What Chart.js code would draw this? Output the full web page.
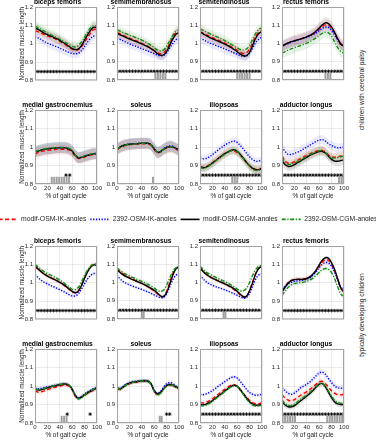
<!DOCTYPE html>
<html>
<head>
<meta charset="utf-8">
<script src="https://cdn.jsdelivr.net/npm/chart.js@4.4.1/dist/chart.umd.min.js"></script>
<style>
    html, body { margin: 0; padding: 0; background: #fff; }
    #fig { position: relative; width: 376px; height: 440px; overflow: hidden; font-family: "Liberation Sans", Arial, sans-serif; }
    #fig canvas { position: absolute; }
    .side { position: absolute; white-space: nowrap; font-size: 6.7px; color: #262626; transform: translate(-50%, -50%) rotate(-90deg); }
</style>
</head>
<body>
<div id="fig">
    <div class="side" style="left:361px; top:90px;">children with cerebral palsy</div>
    <div class="side" style="left:361px; top:315px;">typically developing children</div>
</div>
<script>
// ── Data ─────────────────────────────────────────────────────
const gaitPct = [0, 5, 10, 15, 20, 25, 30, 35, 40, 45, 50, 55, 60, 65, 70, 75, 80, 85, 90, 95, 100];
const seriesNames = ["modif-OSM-IK-angles", "2392-OSM-IK-angles", "modif-OSM-CGM-angles", "2392-OSM-CGM-angles"];
const muscleNames = ["biceps femoris", "semimembranosus", "semitendinosus", "rectus femoris",
                     "medial gastrocnemius", "soleus", "iliopsoas", "adductor longus"];
const yTickValues = [0.8, 0.9, 1.0, 1.1, 1.2];
const yTickLabels = ["0.8", "0.9", "1", "1.1", "1.2"];
const xTickValues = [0, 20, 40, 60, 80, 100];
const starLevel = 0.848;
const barLevel = 0.819;
const fullStarPct = [0, 5, 10, 15, 20, 25, 30, 35, 40, 45, 50, 55, 60, 65, 70, 75, 80, 85, 90, 95, 100];

// children with cerebral palsy
const cp_bf_modIK   = [1.070,1.065,1.058,1.050,1.043,1.036,1.030,1.022,1.013,1.003,0.992,0.980,0.970,0.965,0.968,0.983,1.008,1.035,1.060,1.078,1.075];
const cp_bf_2392IK  = [1.040,1.032,1.022,1.012,1.003,0.996,0.990,0.983,0.976,0.968,0.960,0.952,0.947,0.945,0.948,0.962,0.985,1.010,1.030,1.042,1.043];
const cp_bf_modCGM  = [1.085,1.078,1.068,1.058,1.050,1.042,1.035,1.027,1.018,1.008,0.997,0.985,0.973,0.968,0.972,0.990,1.020,1.050,1.075,1.090,1.085];
const cp_bf_2392CGM = [1.095,1.088,1.078,1.068,1.058,1.050,1.042,1.034,1.025,1.015,1.005,0.995,0.985,0.982,0.990,1.010,1.037,1.065,1.088,1.098,1.095];
const cp_bf_sd = [0.025, 0.025, 0.025, 0.028];

const cp_sm_modIK   = [1.060,1.053,1.045,1.037,1.030,1.023,1.016,1.009,1.001,0.993,0.984,0.974,0.962,0.950,0.944,0.948,0.968,1.000,1.035,1.060,1.068];
const cp_sm_2392IK  = [1.030,1.022,1.014,1.006,0.998,0.991,0.985,0.978,0.971,0.965,0.958,0.951,0.944,0.937,0.933,0.935,0.950,0.975,1.000,1.020,1.030];
const cp_sm_modCGM  = [1.055,1.048,1.040,1.032,1.025,1.018,1.012,1.005,0.998,0.990,0.982,0.972,0.960,0.945,0.936,0.937,0.955,0.990,1.025,1.050,1.060];
const cp_sm_2392CGM = [1.075,1.068,1.060,1.053,1.046,1.040,1.033,1.026,1.018,1.010,1.000,0.990,0.978,0.965,0.960,0.965,0.985,1.015,1.045,1.068,1.075];
const cp_sm_sd = [0.025, 0.025, 0.025, 0.025];
const cp_sm_bars = [62, 66, 70, 74, 78];

const cp_st_modIK   = [1.065,1.057,1.048,1.040,1.032,1.025,1.018,1.010,1.002,0.993,0.983,0.973,0.962,0.952,0.945,0.950,0.970,1.005,1.040,1.063,1.070];
const cp_st_2392IK  = [1.030,1.021,1.012,1.004,0.997,0.990,0.984,0.977,0.970,0.963,0.955,0.948,0.941,0.934,0.930,0.932,0.948,0.975,1.005,1.025,1.035];
const cp_st_modCGM  = [1.062,1.053,1.043,1.034,1.026,1.019,1.012,1.005,0.997,0.988,0.978,0.967,0.955,0.942,0.933,0.933,0.952,0.990,1.030,1.055,1.065];
const cp_st_2392CGM = [1.080,1.072,1.063,1.055,1.047,1.040,1.033,1.025,1.016,1.006,0.996,0.986,0.976,0.967,0.965,0.970,0.990,1.025,1.057,1.078,1.085];
const cp_st_sd = [0.025, 0.025, 0.025, 0.025];
const cp_st_bars = [60, 64, 68, 72, 76, 80];

const cp_rf_modIK   = [0.985,0.995,1.002,1.010,1.015,1.020,1.025,1.030,1.036,1.043,1.052,1.063,1.078,1.093,1.102,1.099,1.082,1.054,1.021,0.995,0.985];
const cp_rf_2392IK  = [0.985,0.993,1.000,1.007,1.013,1.018,1.023,1.028,1.034,1.040,1.048,1.058,1.070,1.083,1.090,1.088,1.073,1.047,1.017,0.993,0.985];
const cp_rf_modCGM  = [0.985,0.995,1.003,1.010,1.015,1.020,1.025,1.030,1.037,1.045,1.055,1.068,1.085,1.102,1.113,1.109,1.090,1.060,1.025,0.997,0.985];
const cp_rf_2392CGM = [0.947,0.956,0.964,0.971,0.977,0.983,0.989,0.995,1.002,1.010,1.020,1.031,1.044,1.056,1.062,1.058,1.040,1.008,0.977,0.956,0.947];
const cp_rf_sd = [0.03, 0.025, 0.03, 0.03];
const cp_rf_bars = [70, 74, 78];

const cp_mg_modIK   = [0.962,0.970,0.975,0.979,0.982,0.984,0.986,0.987,0.988,0.988,0.987,0.983,0.972,0.950,0.938,0.940,0.946,0.951,0.956,0.960,0.962];
const cp_mg_2392IK  = [0.974,0.980,0.984,0.988,0.991,0.993,0.995,0.996,0.997,0.997,0.996,0.991,0.979,0.956,0.943,0.945,0.951,0.956,0.961,0.964,0.966];
const cp_mg_modCGM  = [0.972,0.978,0.983,0.987,0.990,0.992,0.994,0.995,0.996,0.996,0.995,0.990,0.978,0.955,0.942,0.944,0.950,0.955,0.960,0.963,0.965];
const cp_mg_2392CGM = [0.975,0.981,0.985,0.989,0.992,0.994,0.996,0.997,0.998,0.998,0.997,0.992,0.980,0.957,0.944,0.946,0.952,0.957,0.962,0.965,0.967];
const cp_mg_sd = [0.03, 0.03, 0.03, 0.03];
const cp_mg_bars = [27, 31, 35, 39, 43, 47, 51, 55];
const cp_mg_stars = [50, 56];

const cp_so_modIK   = [0.985,0.996,1.004,1.009,1.012,1.014,1.015,1.016,1.017,1.017,1.016,1.008,0.986,0.969,0.972,0.985,0.994,0.999,0.997,0.989,0.980];
const cp_so_2392IK  = [0.990,1.001,1.009,1.013,1.016,1.018,1.019,1.020,1.021,1.021,1.021,1.013,0.991,0.973,0.977,0.991,1.001,1.006,1.004,0.995,0.985];
const cp_so_modCGM  = [0.990,1.000,1.008,1.012,1.015,1.017,1.018,1.019,1.020,1.020,1.020,1.012,0.990,0.972,0.975,0.988,0.997,1.002,1.000,0.992,0.983];
const cp_so_2392CGM = [0.989,0.999,1.007,1.011,1.014,1.016,1.017,1.018,1.019,1.019,1.019,1.011,0.989,0.971,0.974,0.987,0.996,1.001,0.999,0.991,0.982];
const cp_so_sd = [0.03, 0.03, 0.03, 0.03];
const cp_so_bars = [58];

const cp_il_modIK   = [0.893,0.890,0.893,0.903,0.915,0.928,0.940,0.953,0.964,0.973,0.979,0.978,0.969,0.955,0.937,0.917,0.899,0.886,0.879,0.880,0.886];
const cp_il_2392IK  = [0.940,0.936,0.938,0.947,0.959,0.972,0.985,0.998,1.010,1.020,1.028,1.032,1.025,1.008,0.988,0.966,0.947,0.932,0.923,0.924,0.931];
const cp_il_modCGM  = [0.892,0.888,0.891,0.901,0.913,0.926,0.939,0.952,0.964,0.974,0.982,0.985,0.977,0.960,0.939,0.917,0.898,0.884,0.877,0.878,0.884];
const cp_il_2392CGM = [0.888,0.884,0.888,0.898,0.910,0.923,0.936,0.949,0.961,0.971,0.979,0.982,0.974,0.957,0.936,0.914,0.895,0.880,0.873,0.874,0.881];
const cp_il_sd = [0.02, 0.02, 0.025, 0.02];
const cp_il_bars = [52, 56, 60];

const cp_al_modIK   = [0.952,0.925,0.912,0.913,0.920,0.928,0.937,0.946,0.955,0.963,0.970,0.977,0.982,0.982,0.973,0.957,0.947,0.945,0.948,0.952,0.955];
const cp_al_2392IK  = [1.000,0.975,0.960,0.960,0.965,0.972,0.980,0.990,1.000,1.010,1.020,1.030,1.037,1.040,1.032,1.018,1.008,1.000,0.995,0.997,1.000];
const cp_al_modCGM  = [0.928,0.905,0.895,0.897,0.905,0.915,0.925,0.935,0.945,0.955,0.963,0.970,0.975,0.976,0.968,0.950,0.933,0.924,0.923,0.927,0.930];
const cp_al_2392CGM = [0.945,0.918,0.906,0.907,0.913,0.921,0.930,0.940,0.950,0.959,0.967,0.974,0.980,0.980,0.970,0.953,0.942,0.940,0.943,0.947,0.950];
const cp_al_sd = [0.025, 0.025, 0.025, 0.025];
const cp_al_bars = [92, 96, 99];

// typically developing children
const td_bf_modIK   = [1.088,1.074,1.060,1.048,1.037,1.028,1.020,1.011,1.001,0.990,0.978,0.964,0.951,0.946,0.957,0.988,1.028,1.064,1.090,1.102,1.100];
const td_bf_2392IK  = [1.045,1.028,1.013,1.002,0.993,0.985,0.978,0.970,0.962,0.953,0.944,0.935,0.928,0.928,0.940,0.965,0.995,1.022,1.040,1.050,1.050];
const td_bf_modCGM  = [1.090,1.075,1.060,1.047,1.036,1.027,1.019,1.011,1.002,0.992,0.980,0.966,0.952,0.945,0.955,0.985,1.025,1.060,1.085,1.097,1.095];
const td_bf_2392CGM = [1.100,1.086,1.072,1.060,1.050,1.041,1.033,1.025,1.015,1.003,0.990,0.977,0.964,0.962,0.975,1.005,1.040,1.070,1.090,1.100,1.097];
const td_bf_sd = [0.012, 0.008, 0.008, 0.008];

const td_sm_modIK   = [1.075,1.060,1.047,1.036,1.027,1.019,1.011,1.003,0.995,0.986,0.976,0.965,0.952,0.938,0.925,0.925,0.952,1.000,1.048,1.078,1.087];
const td_sm_2392IK  = [1.040,1.020,1.005,0.995,0.987,0.980,0.974,0.968,0.962,0.955,0.948,0.940,0.932,0.924,0.917,0.918,0.937,0.975,1.015,1.040,1.047];
const td_sm_modCGM  = [1.070,1.055,1.042,1.032,1.024,1.016,1.009,1.002,0.995,0.987,0.978,0.968,0.957,0.943,0.927,0.922,0.945,0.990,1.040,1.075,1.085];
const td_sm_2392CGM = [1.080,1.066,1.054,1.044,1.036,1.028,1.021,1.014,1.006,0.998,0.990,0.980,0.969,0.958,0.952,0.957,0.985,1.025,1.060,1.080,1.083];
const td_sm_sd = [0.01, 0.008, 0.008, 0.008];
const td_sm_bars = [40, 43];

const td_st_modIK   = [1.082,1.062,1.046,1.034,1.024,1.016,1.008,1.000,0.992,0.983,0.973,0.961,0.947,0.932,0.920,0.925,0.958,1.005,1.052,1.080,1.090];
const td_st_2392IK  = [1.040,1.020,1.004,0.993,0.985,0.978,0.972,0.966,0.960,0.953,0.946,0.938,0.930,0.922,0.914,0.918,0.940,0.980,1.020,1.042,1.048];
const td_st_modCGM  = [1.080,1.060,1.045,1.033,1.024,1.016,1.008,1.000,0.993,0.985,0.976,0.965,0.952,0.936,0.922,0.925,0.955,1.000,1.048,1.078,1.088];
const td_st_2392CGM = [1.090,1.072,1.057,1.046,1.037,1.029,1.021,1.013,1.005,0.996,0.987,0.976,0.964,0.955,0.955,0.968,1.000,1.040,1.072,1.090,1.093];
const td_st_sd = [0.01, 0.008, 0.008, 0.008];
const td_st_bars = [38, 41];

const td_rf_modIK   = [0.955,0.980,1.000,1.012,1.018,1.019,1.019,1.020,1.023,1.030,1.044,1.064,1.090,1.113,1.125,1.122,1.100,1.063,1.015,0.968,0.950];
const td_rf_2392IK  = [0.965,0.980,0.993,1.002,1.007,1.010,1.012,1.015,1.020,1.028,1.042,1.060,1.082,1.100,1.110,1.107,1.088,1.055,1.012,0.975,0.962];
const td_rf_modCGM  = [0.950,0.975,0.998,1.011,1.017,1.018,1.018,1.019,1.023,1.032,1.047,1.069,1.097,1.122,1.136,1.133,1.108,1.070,1.020,0.970,0.948];
const td_rf_2392CGM = [0.930,0.955,0.975,0.988,0.995,0.998,1.000,1.003,1.008,1.015,1.025,1.040,1.057,1.071,1.077,1.072,1.055,1.020,0.975,0.938,0.925];
const td_rf_sd = [0.012, 0.01, 0.01, 0.01];

const td_mg_modIK   = [0.975,0.966,0.968,0.974,0.980,0.986,0.991,0.996,1.000,1.004,1.005,0.999,0.978,0.944,0.933,0.940,0.950,0.960,0.969,0.976,0.980];
const td_mg_2392IK  = [0.990,0.985,0.987,0.991,0.995,0.999,1.002,1.005,1.008,1.011,1.011,1.004,0.985,0.952,0.937,0.944,0.957,0.968,0.978,0.986,0.992];
const td_mg_modCGM  = [0.985,0.978,0.980,0.985,0.990,0.995,0.999,1.003,1.007,1.010,1.010,1.003,0.983,0.948,0.933,0.940,0.952,0.963,0.974,0.982,0.988];
const td_mg_2392CGM = [0.987,0.980,0.982,0.987,0.992,0.997,1.001,1.005,1.008,1.011,1.011,1.004,0.983,0.945,0.930,0.938,0.951,0.963,0.974,0.983,0.989];
const td_mg_sd = [0.01, 0.01, 0.01, 0.01];
const td_mg_bars = [43, 47, 51];
const td_mg_stars = [52, 89];

const td_so_modIK   = [0.988,0.981,0.993,1.005,1.013,1.018,1.021,1.023,1.025,1.026,1.024,1.010,0.973,0.955,0.963,0.983,1.000,1.006,1.002,0.993,0.988];
const td_so_2392IK  = [0.993,0.987,0.998,1.010,1.018,1.022,1.025,1.027,1.029,1.030,1.027,1.013,0.977,0.960,0.970,0.993,1.012,1.019,1.013,1.000,0.992];
const td_so_modCGM  = [0.990,0.983,0.995,1.007,1.015,1.020,1.023,1.025,1.027,1.028,1.026,1.012,0.975,0.957,0.965,0.985,1.002,1.008,1.004,0.995,0.990];
const td_so_2392CGM = [0.990,0.983,0.995,1.006,1.014,1.020,1.023,1.025,1.027,1.027,1.024,1.009,0.970,0.952,0.960,0.982,1.000,1.006,1.003,0.995,0.990];
const td_so_sd = [0.01, 0.01, 0.01, 0.012];
const td_so_bars = [69, 72];
const td_so_stars = [80, 85];

const td_il_modIK   = [0.910,0.908,0.912,0.920,0.931,0.944,0.957,0.970,0.982,0.994,1.004,1.006,0.998,0.981,0.960,0.940,0.922,0.910,0.904,0.905,0.908];
const td_il_2392IK  = [0.955,0.953,0.957,0.965,0.975,0.987,1.000,1.012,1.024,1.035,1.045,1.050,1.043,1.025,1.003,0.982,0.965,0.955,0.950,0.952,0.955];
const td_il_modCGM  = [0.900,0.898,0.902,0.910,0.921,0.934,0.947,0.960,0.973,0.986,0.998,1.004,0.998,0.980,0.957,0.935,0.915,0.902,0.896,0.897,0.900];
const td_il_2392CGM = [0.895,0.893,0.897,0.905,0.917,0.930,0.943,0.957,0.970,0.983,0.995,1.002,0.996,0.977,0.953,0.930,0.910,0.897,0.891,0.893,0.896];
const td_il_sd = [0.01, 0.01, 0.008, 0.008];

const td_al_modIK   = [0.953,0.935,0.923,0.920,0.926,0.937,0.950,0.960,0.970,0.982,0.995,1.010,1.023,1.025,1.012,0.993,0.973,0.960,0.953,0.952,0.955];
const td_al_2392IK  = [0.990,0.975,0.960,0.955,0.962,0.975,0.990,1.000,1.010,1.022,1.038,1.055,1.070,1.075,1.063,1.040,1.018,1.000,0.990,0.988,0.990];
const td_al_modCGM  = [0.915,0.897,0.888,0.887,0.894,0.906,0.920,0.933,0.946,0.960,0.976,0.994,1.010,1.013,0.995,0.966,0.937,0.914,0.903,0.900,0.900];
const td_al_2392CGM = [0.925,0.905,0.895,0.895,0.902,0.914,0.928,0.940,0.952,0.966,0.982,0.998,1.012,1.015,0.998,0.972,0.945,0.922,0.910,0.906,0.905];
const td_al_sd = [0.015, 0.015, 0.015, 0.015];
const td_al_bars = [1, 5, 9, 13, 17, 21, 73, 77, 81, 85, 89, 93, 97];

// ── Panel table (reading order, 4 per row) ───────────────────
const panels = [
    { muscle: 0, lines: [cp_bf_modIK, cp_bf_2392IK, cp_bf_modCGM, cp_bf_2392CGM], sd: cp_bf_sd, stars: fullStarPct, bars: [] },
    { muscle: 1, lines: [cp_sm_modIK, cp_sm_2392IK, cp_sm_modCGM, cp_sm_2392CGM], sd: cp_sm_sd, stars: fullStarPct, bars: cp_sm_bars },
    { muscle: 2, lines: [cp_st_modIK, cp_st_2392IK, cp_st_modCGM, cp_st_2392CGM], sd: cp_st_sd, stars: fullStarPct, bars: cp_st_bars },
    { muscle: 3, lines: [cp_rf_modIK, cp_rf_2392IK, cp_rf_modCGM, cp_rf_2392CGM], sd: cp_rf_sd, stars: fullStarPct, bars: cp_rf_bars },
    { muscle: 4, lines: [cp_mg_modIK, cp_mg_2392IK, cp_mg_modCGM, cp_mg_2392CGM], sd: cp_mg_sd, stars: cp_mg_stars, bars: cp_mg_bars },
    { muscle: 5, lines: [cp_so_modIK, cp_so_2392IK, cp_so_modCGM, cp_so_2392CGM], sd: cp_so_sd, stars: [], bars: cp_so_bars },
    { muscle: 6, lines: [cp_il_modIK, cp_il_2392IK, cp_il_modCGM, cp_il_2392CGM], sd: cp_il_sd, stars: fullStarPct, bars: cp_il_bars },
    { muscle: 7, lines: [cp_al_modIK, cp_al_2392IK, cp_al_modCGM, cp_al_2392CGM], sd: cp_al_sd, stars: fullStarPct, bars: cp_al_bars },
    { muscle: 0, lines: [td_bf_modIK, td_bf_2392IK, td_bf_modCGM, td_bf_2392CGM], sd: td_bf_sd, stars: fullStarPct, bars: [] },
    { muscle: 1, lines: [td_sm_modIK, td_sm_2392IK, td_sm_modCGM, td_sm_2392CGM], sd: td_sm_sd, stars: fullStarPct, bars: td_sm_bars },
    { muscle: 2, lines: [td_st_modIK, td_st_2392IK, td_st_modCGM, td_st_2392CGM], sd: td_st_sd, stars: fullStarPct, bars: td_st_bars },
    { muscle: 3, lines: [td_rf_modIK, td_rf_2392IK, td_rf_modCGM, td_rf_2392CGM], sd: td_rf_sd, stars: fullStarPct, bars: [] },
    { muscle: 4, lines: [td_mg_modIK, td_mg_2392IK, td_mg_modCGM, td_mg_2392CGM], sd: td_mg_sd, stars: td_mg_stars, bars: td_mg_bars },
    { muscle: 5, lines: [td_so_modIK, td_so_2392IK, td_so_modCGM, td_so_2392CGM], sd: td_so_sd, stars: td_so_stars, bars: td_so_bars },
    { muscle: 6, lines: [td_il_modIK, td_il_2392IK, td_il_modCGM, td_il_2392CGM], sd: td_il_sd, stars: fullStarPct, bars: [] },
    { muscle: 7, lines: [td_al_modIK, td_al_2392IK, td_al_modCGM, td_al_2392CGM], sd: td_al_sd, stars: fullStarPct, bars: td_al_bars },
];

// ── Styles & layout ──────────────────────────────────────────
const lineColors = ["#ff0000", "#0000ff", "#000000", "#168c16"];
const bandColors = ["rgba(255,0,0,0.08)", "rgba(0,0,255,0.08)", "rgba(0,0,0,0.10)", "rgba(0,140,0,0.10)"];
const lineDashes = [[4, 2.5], [1.3, 1.5], [], [4, 1.6, 1.2, 1.6]];
const lineOrder = [4, 3, 2, 1];          // green on top, red at the bottom
const TEXT = "#262626";
const GRID = "rgba(0,0,0,0.10)";
const PLOT_LEFT = [35, 117, 200, 282];
const PLOT_TOP = [7, 110, 246, 349];
const PLOT_W = 62, PLOT_H = 74, TITLE_H = 9;

Chart.defaults.font.family = "'Liberation Sans', Arial, sans-serif";
Chart.defaults.color = TEXT;

// axes box drawn on all four sides (MATLAB "box on")
const frameBox = {
    id: "frameBox",
    afterDatasetsDraw(chart) {
        const { ctx, chartArea: a } = chart;
        ctx.save();
        ctx.strokeStyle = "#a3a3a3";
        ctx.lineWidth = 1;
        ctx.strokeRect(a.left + 0.5, a.top + 0.5, a.right - a.left - 1, a.bottom - a.top - 1);
        ctx.restore();
    }
};

const fig = document.getElementById("fig");

const makePanel = (p, idx) => {
    const row = Math.floor(idx / 4), col = idx % 4;
    const showX = row % 2 === 1;
    const yW = col === 0 ? 17 : 14;
    const xH = showX ? 16 : 5;

    const canvas = document.createElement("canvas");
    canvas.width = 2 * yW + PLOT_W;
    canvas.height = TITLE_H + PLOT_H + xH;
    canvas.style.left = (PLOT_LEFT[col] - yW) + "px";
    canvas.style.top = (PLOT_TOP[row] - TITLE_H) + "px";
    fig.appendChild(canvas);

    const xy = ys => gaitPct.map((x, i) => ({ x, y: ys[i] }));
    const datasets = [];

    // mean ± SD bands
    p.lines.forEach((ys, s) => {
        datasets.push({ data: xy(ys.map(v => v + p.sd[s])), borderWidth: 0, borderColor: "transparent",
                        pointRadius: 0, fill: false, tension: 0.35, order: 10 });
        datasets.push({ data: xy(ys.map(v => v - p.sd[s])), borderWidth: 0, borderColor: "transparent",
                        pointRadius: 0, fill: "-1", backgroundColor: bandColors[s], tension: 0.35, order: 10 });
    });

    // mean curves
    p.lines.forEach((ys, s) => {
        datasets.push({ label: seriesNames[s], data: xy(ys), borderColor: lineColors[s], borderDash: lineDashes[s],
                        borderWidth: 1.4, pointRadius: 0, fill: false, tension: 0.35, order: lineOrder[s] });
    });

    // significance marks
    datasets.push({ data: p.stars.map(x => ({ x, y: starLevel })), showLine: false, pointStyle: "star",
                    pointRadius: 1.8, pointBorderWidth: 0.75, pointBorderColor: "#000", order: 0 });
    datasets.push({ data: p.bars.map(x => ({ x, y: barLevel })), showLine: false, pointStyle: "line", pointRotation: 90,
                    pointRadius: 3.7, pointBorderWidth: 2, pointBorderColor: "#a0a0a0", order: 0 });

    new Chart(canvas, {
        type: "line",
        data: { datasets },
        options: {
            responsive: false,
            animation: false,
            events: [],
            layout: { padding: { left: 0, right: yW, top: 0, bottom: 0 } },
            plugins: {
                legend: { display: false },
                tooltip: { enabled: false },
                title: { display: true, text: muscleNames[p.muscle], color: "#000", padding: 0,
                         font: { size: 6.7, weight: "bold", lineHeight: "9px" } }
            },
            scales: {
                x: {
                    type: "linear", min: 0, max: 100,
                    afterBuildTicks: s => { s.ticks = xTickValues.map(value => ({ value })); },
                    afterFit: s => { s.height = xH; },
                    grid: { color: GRID, lineWidth: 0.8, drawTicks: false },
                    border: { display: false },
                    ticks: { display: showX, padding: 1, autoSkip: false, maxRotation: 0, color: TEXT, font: { size: 6 } },
                    title: { display: showX, text: "% of gait cycle", color: TEXT, padding: 0, font: { size: 6.4 } }
                },
                y: {
                    min: 0.8, max: 1.2,
                    afterBuildTicks: s => { s.ticks = yTickValues.map(value => ({ value })); },
                    afterFit: s => { s.width = yW; },
                    grid: { color: GRID, lineWidth: 0.8, drawTicks: false },
                    border: { display: false },
                    ticks: { padding: 2, color: TEXT, font: { size: 6 }, callback: (v, i) => yTickLabels[i] },
                    title: { display: col === 0, text: "Normalized muscle length", color: TEXT, padding: 0, font: { size: 6.4 } }
                }
            }
        },
        plugins: [frameBox]
    });
};

// ── Shared legend ────────────────────────────────────────────
const makeLegend = () => {
    const canvas = document.createElement("canvas");
    canvas.width = 400;
    canvas.height = 18;
    canvas.style.left = "-12px";
    canvas.style.top = "212px";
    fig.appendChild(canvas);

    new Chart(canvas, {
        type: "line",
        data: { datasets: [] },
        options: {
            responsive: false,
            animation: false,
            events: [],
            scales: { x: { display: false }, y: { display: false } },
            plugins: {
                tooltip: { enabled: false },
                legend: {
                    display: true,
                    position: "top",
                    labels: {
                        usePointStyle: true, pointStyleWidth: 19, boxHeight: 6, padding: 4,
                        color: TEXT, font: { size: 6.8 },
                        generateLabels: () => seriesNames.map((text, i) => ({
                            text, strokeStyle: lineColors[i], fillStyle: lineColors[i], lineWidth: 1.6,
                            lineDash: lineDashes[i], pointStyle: "line", rotation: 0, hidden: false, fontColor: TEXT
                        }))
                    }
                }
            }
        }
    });
};

// ── Boot ─────────────────────────────────────────────────────
panels.forEach(makePanel);
makeLegend();
</script>
</body>
</html>
